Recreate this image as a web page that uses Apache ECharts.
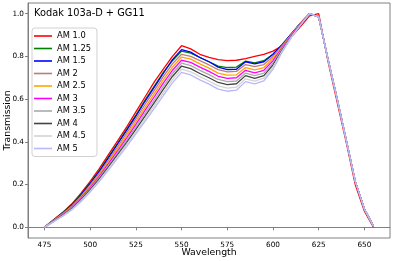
<!DOCTYPE html>
<html><head><meta charset="utf-8">
<script src="https://cdn.jsdelivr.net/npm/echarts@6/dist/echarts.min.js"></script>
<style>html,body{margin:0;padding:0;background:#fff}#c{width:393px;height:261px}</style>
</head><body><div id="c"></div>
<script>
const wavelengths = [475,480,485,490,495,500,505,510,515,520,525,530,535,540,545,550,555,560,565,570,575,580,585,590,595,600,605,610,615,620,625,630,635,640,645,650,655];
const am10  = [0,0.035,0.07,0.11,0.16,0.215,0.275,0.34,0.405,0.47,0.54,0.61,0.68,0.74,0.8,0.85,0.835,0.81,0.795,0.785,0.78,0.782,0.79,0.8,0.81,0.825,0.85,0.89,0.94,0.99,1.0,0.78,0.59,0.4,0.2,0.075,0.0];
const am125 = [0,0.034,0.068,0.107,0.155,0.208,0.265,0.33,0.393,0.458,0.525,0.595,0.66,0.725,0.78,0.825,0.815,0.795,0.775,0.755,0.748,0.75,0.778,0.77,0.78,0.81,0.855,0.905,0.955,1.0,0.985,0.79,0.605,0.41,0.215,0.085,0.005];
const am15  = [0,0.033,0.066,0.104,0.152,0.205,0.262,0.325,0.39,0.455,0.52,0.59,0.655,0.72,0.785,0.832,0.82,0.795,0.775,0.75,0.738,0.74,0.775,0.765,0.775,0.81,0.855,0.905,0.955,1.0,0.985,0.79,0.605,0.41,0.215,0.085,0.005];
const am2   = [0,0.032,0.064,0.1,0.146,0.198,0.254,0.315,0.378,0.442,0.508,0.575,0.64,0.705,0.765,0.81,0.8,0.78,0.76,0.738,0.728,0.73,0.762,0.752,0.762,0.8,0.85,0.903,0.955,1.0,0.985,0.79,0.605,0.41,0.215,0.085,0.005];
const am25  = [0,0.031,0.062,0.097,0.141,0.192,0.247,0.306,0.368,0.43,0.495,0.56,0.625,0.69,0.75,0.797,0.787,0.765,0.745,0.722,0.712,0.714,0.748,0.737,0.748,0.79,0.845,0.9,0.953,1.0,0.985,0.79,0.605,0.41,0.215,0.085,0.005];
const am3   = [0,0.03,0.06,0.094,0.137,0.186,0.24,0.298,0.358,0.419,0.482,0.547,0.61,0.675,0.735,0.782,0.772,0.75,0.73,0.707,0.697,0.7,0.735,0.723,0.735,0.78,0.84,0.898,0.952,1.0,0.985,0.79,0.605,0.41,0.215,0.085,0.005];
const am35  = [0,0.029,0.058,0.091,0.133,0.181,0.233,0.29,0.349,0.408,0.47,0.533,0.596,0.66,0.72,0.768,0.757,0.735,0.715,0.692,0.682,0.685,0.722,0.71,0.722,0.77,0.835,0.895,0.95,1.0,0.985,0.79,0.605,0.41,0.215,0.085,0.005];
const am4   = [0,0.028,0.056,0.088,0.129,0.176,0.227,0.283,0.34,0.398,0.459,0.52,0.583,0.646,0.706,0.755,0.743,0.72,0.7,0.678,0.668,0.672,0.71,0.697,0.71,0.76,0.83,0.893,0.95,1.0,0.985,0.79,0.605,0.41,0.215,0.085,0.005];
const am45  = [0,0.027,0.054,0.085,0.125,0.17,0.22,0.275,0.331,0.388,0.447,0.507,0.568,0.63,0.69,0.74,0.728,0.705,0.685,0.662,0.652,0.656,0.695,0.684,0.698,0.75,0.825,0.89,0.948,1.0,0.985,0.79,0.605,0.41,0.215,0.085,0.005];
const am5   = [0,0.026,0.052,0.082,0.121,0.165,0.214,0.268,0.323,0.379,0.437,0.496,0.556,0.617,0.676,0.725,0.713,0.69,0.67,0.647,0.637,0.642,0.682,0.671,0.686,0.74,0.82,0.888,0.946,1.0,0.985,0.79,0.605,0.41,0.215,0.085,0.005];
const seriesNames = ['AM 1.0','AM 1.25','AM 1.5','AM 2','AM 2.5','AM 3','AM 3.5','AM 4','AM 4.5','AM 5'];
const seriesData = [am10,am125,am15,am2,am25,am3,am35,am4,am45,am5];
const colors = ['#ff0000','#008000','#0000ff','#c07a7a','#ffa500','#ff00ff','#aaaaaa','#444444','#d3d3d3','#b8b8ff'];
const xTicks = [475,500,525,550,575,600,625,650];
const yTicks = [0,0.2,0.4,0.6,0.8,1.0];
const titleText = 'Kodak 103a-D + GG11';

const font = 'DejaVu Sans';
const chart = echarts.init(document.getElementById('c'), null, {renderer:'canvas'});
chart.setOption({
  animation:false,
  backgroundColor:'#fff',
  title:{text:titleText, left:29, top:3, textStyle:{fontFamily:font, fontSize:9.8, fontWeight:'normal', color:'#000'}},
  legend:{
    orient:'vertical', left:32, top:28, data:seriesNames,
    icon:'rect', itemWidth:18, itemHeight:1.6, itemGap:2.5,
    backgroundColor:'#fff', borderColor:'#d0d0d0', borderWidth:1, borderRadius:3,
    padding:[3,6,3,2],
    textStyle:{fontFamily:font, fontSize:8.3, color:'#000', lineHeight:10}
  },
  grid:{left:28, right:3, top:3, bottom:23, show:true, borderColor:'#808080', borderWidth:1, containLabel:false, outerBoundsMode:'none'},
  xAxis:{
    type:'value', min:466, max:664,
    name:'Wavelength', nameLocation:'middle', nameGap:10, nameMoveOverlap:false,
    nameTextStyle:{fontFamily:font, fontSize:9.3, color:'#000'},
    axisLine:{show:true, lineStyle:{color:'#808080'}},
    axisTick:{show:true, length:3, customValues:xTicks, lineStyle:{color:'#808080'}},
    axisLabel:{customValues:xTicks, fontFamily:font, fontSize:7.3, color:'#000', margin:3.5},
    splitLine:{show:false}
  },
  yAxis:{
    type:'value', min:-0.05, max:1.05,
    name:'Transmission', nameLocation:'middle', nameGap:16, nameMoveOverlap:false,
    nameTextStyle:{fontFamily:font, fontSize:9.3, color:'#000'},
    axisLine:{show:true, lineStyle:{color:'#808080'}},
    axisTick:{show:true, length:3, customValues:yTicks, lineStyle:{color:'#808080'}},
    axisLabel:{customValues:yTicks, fontFamily:font, fontSize:7.3, color:'#000', margin:4, formatter:v=>v.toFixed(1)},
    splitLine:{show:false}
  },
  series: seriesNames.map((n,i)=>({
    name:n, type:'line', showSymbol:false, symbol:'none',
    data: wavelengths.map((w,j)=>[w, seriesData[i][j]]),
    lineStyle:{color:colors[i], width:1.3},
    itemStyle:{color:colors[i]}
  }))
});
</script></body></html>
